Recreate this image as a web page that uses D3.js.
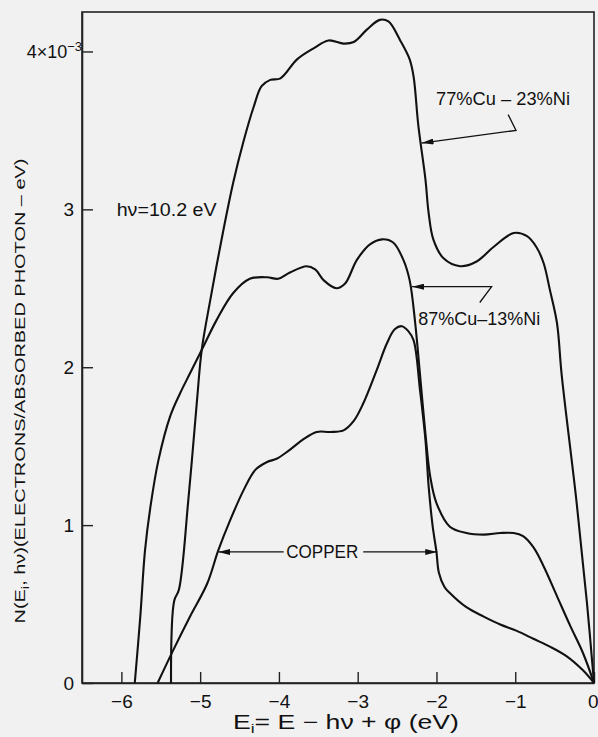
<!DOCTYPE html>
<html>
<head>
<meta charset="utf-8">
<script src="https://cdn.jsdelivr.net/npm/d3@7"></script>
<style>
  html, body { margin: 0; padding: 0; background: #f1f1f1; }
  svg { display: block; }
  text { font-family: "Liberation Sans", Arial, sans-serif; fill: #111; }
</style>
</head>
<body>
<div id="chart"></div>
<script>
// ---------------- data ----------------
const xTicks = [-6, -5, -4, -3, -2, -1, 0];
const xTickLabels = ["\u22126", "\u22125", "\u22124", "\u22123", "\u22122", "\u22121", "0"];
const yTicks = [0, 1, 2, 3, 4];
const yTickLabels = ["0", "1", "2", "3", "4\u00d710"];

// 77%Cu-23%Ni
const ni23E = [-5.37, -5.33, -5.27, -5.15, -5.04, -4.98, -4.87, -4.72, -4.58, -4.45, -4.32, -4.22, -4.11, -3.98, -3.77, -3.56, -3.37, -3.18, -3.05, -2.88, -2.72, -2.61, -2.46, -2.34, -2.29, -2.23, -2.14, -2.10, -2.04, -1.91, -1.70, -1.49, -1.28, -1.02, -0.85, -0.73, -0.64, -0.56, -0.47, -0.41, -0.22, -0.09, 0];
const ni23N = [0, 0.52, 0.59, 1.16, 1.79, 2.11, 2.43, 2.83, 3.17, 3.43, 3.65, 3.78, 3.82, 3.83, 3.95, 4.02, 4.07, 4.05, 4.06, 4.14, 4.20, 4.19, 4.07, 3.95, 3.84, 3.53, 3.19, 2.98, 2.81, 2.69, 2.64, 2.67, 2.76, 2.85, 2.83, 2.76, 2.66, 2.49, 2.28, 1.95, 1.14, 0.51, 0];

// 87%Cu-13%Ni
const ni13E = [-5.83, -5.76, -5.70, -5.63, -5.53, -5.38, -5.25, -5.13, -4.97, -4.79, -4.58, -4.37, -4.15, -4.01, -3.86, -3.65, -3.54, -3.43, -3.27, -3.16, -3.01, -2.84, -2.69, -2.55, -2.42, -2.34, -2.27, -2.21, -2.14, -2.08, -2.00, -1.83, -1.62, -1.40, -1.19, -1.02, -0.90, -0.77, -0.64, -0.47, -0.30, -0.14, 0];
const ni13N = [0, 0.42, 0.84, 1.12, 1.41, 1.69, 1.84, 1.96, 2.12, 2.30, 2.47, 2.56, 2.57, 2.56, 2.60, 2.64, 2.62, 2.55, 2.50, 2.53, 2.68, 2.78, 2.81, 2.79, 2.68, 2.55, 2.28, 1.96, 1.58, 1.31, 1.14, 0.99, 0.95, 0.94, 0.95, 0.95, 0.93, 0.86, 0.74, 0.55, 0.36, 0.19, 0];

// Copper
const cuE = [-5.54, -5.34, -5.13, -4.91, -4.77, -4.62, -4.45, -4.30, -4.15, -4.03, -3.88, -3.70, -3.52, -3.35, -3.18, -3.05, -2.93, -2.76, -2.63, -2.53, -2.44, -2.36, -2.29, -2.21, -2.14, -2.10, -2.05, -2.00, -1.97, -1.90, -1.83, -1.62, -1.40, -1.19, -0.98, -0.77, -0.56, -0.35, -0.14, 0];
const cuN = [0, 0.21, 0.42, 0.63, 0.84, 1.03, 1.22, 1.35, 1.40, 1.42, 1.47, 1.54, 1.59, 1.59, 1.60, 1.66, 1.77, 1.98, 2.15, 2.24, 2.26, 2.23, 2.17, 1.86, 1.54, 1.25, 1.00, 0.83, 0.70, 0.61, 0.57, 0.48, 0.42, 0.37, 0.33, 0.28, 0.23, 0.17, 0.08, 0];

const seriesNames = ["77%Cu\u201323%Ni", "87%Cu\u201313%Ni", "COPPER"];

// ---------------- layout ----------------
const W = 598, H = 737;
const margin = { left: 82, right: 4, top: 12, bottom: 54 };

const svg = d3.select("#chart").append("svg").attr("width", W).attr("height", H);
svg.append("rect").attr("width", W).attr("height", H).attr("fill", "#f1f1f1");

const x = d3.scaleLinear().domain([-6.5, 0]).range([margin.left, W - margin.right]);
const y = d3.scaleLinear().domain([0, 4.25]).range([H - margin.bottom, margin.top]);

// frame
svg.append("rect")
  .attr("x", x(-6.5)).attr("y", y(4.25))
  .attr("width", x(0) - x(-6.5)).attr("height", y(0) - y(4.25))
  .attr("fill", "none").attr("stroke", "#222").attr("stroke-width", 1.6);

// x axis
const xAxis = d3.axisBottom(x).tickValues(xTicks)
  .tickFormat((d, i) => xTickLabels[i]).tickSizeInner(-11).tickSizeOuter(0).tickPadding(8);
const gx = svg.append("g").attr("transform", `translate(0,${y(0)})`).call(xAxis);
gx.select(".domain").attr("stroke", "#222").attr("stroke-width", 1.6);
gx.selectAll(".tick line").attr("stroke", "#222").attr("stroke-width", 1.4);
gx.selectAll(".tick text").attr("font-size", 19).attr("dy", "0.9em").attr("fill", "#111")
  .attr("font-family", "Liberation Sans, Arial, sans-serif");
gx.selectAll(".tick text").filter(d => d === 0).attr("text-anchor", "end").attr("dx", 4);

// y axis
const yAxis = d3.axisLeft(y).tickValues(yTicks)
  .tickFormat((d, i) => yTickLabels[i]).tickSizeInner(-11).tickSizeOuter(0).tickPadding(8);
const gy = svg.append("g").attr("transform", `translate(${x(-6.5)},0)`).call(yAxis);
gy.select(".domain").attr("stroke", "#222").attr("stroke-width", 1.6);
gy.selectAll(".tick line").attr("stroke", "#222").attr("stroke-width", 1.4);
gy.selectAll(".tick text").attr("font-size", 19).attr("fill", "#111")
  .attr("font-family", "Liberation Sans, Arial, sans-serif");
// superscript for the top tick
const t4 = gy.selectAll(".tick text").filter(d => d === 4).attr("x", 0).attr("font-size", 18);
t4.append("tspan").attr("dy", "-0.55em").attr("font-size", 13).text("\u22123");

// curves
const line = d3.line().x(d => x(d[0])).y(d => y(d[1])).curve(d3.curveCatmullRom.alpha(0.5));
const series = [
  { name: seriesNames[0], pts: d3.zip(ni23E, ni23N) },
  { name: seriesNames[1], pts: d3.zip(ni13E, ni13N) },
  { name: seriesNames[2], pts: d3.zip(cuE, cuN) }
];
svg.selectAll("path.curve").data(series).enter().append("path")
  .attr("class", "curve")
  .attr("d", d => line(d.pts))
  .attr("fill", "none").attr("stroke", "#111").attr("stroke-width", 2.1)
  .attr("stroke-linejoin", "round");

// arrow marker
const defs = svg.append("defs");
defs.append("marker").attr("id", "arr").attr("viewBox", "0 0 12 6")
  .attr("refX", 12).attr("refY", 3).attr("markerWidth", 12).attr("markerHeight", 6)
  .attr("markerUnits", "userSpaceOnUse").attr("orient", "auto")
  .append("path").attr("d", "M0,0 L12,3 L0,6 Z").attr("fill", "#111");

const lead = (pts) => svg.append("polyline")
  .attr("points", pts.map(p => `${x(p[0])},${y(p[1])}`).join(" "))
  .attr("fill", "none").attr("stroke", "#111").attr("stroke-width", 1.3)
  .attr("marker-end", "url(#arr)");

// 77% label
svg.append("text").attr("x", x(-2.005)).attr("y", y(3.66))
  .attr("font-size", 19).attr("textLength", 134).attr("lengthAdjust", "spacingAndGlyphs")
  .text("77%Cu \u2013 23%Ni");
lead([[-1.09, 3.60], [-0.99, 3.50], [-2.19, 3.42]]);

// 87% label
svg.append("text").attr("x", x(-2.23)).attr("y", y(2.27))
  .attr("font-size", 19).attr("textLength", 122).attr("lengthAdjust", "spacingAndGlyphs")
  .text("87%Cu\u201313%Ni");
lead([[-1.45, 2.41], [-1.30, 2.51], [-2.31, 2.51]]);

// copper label
svg.append("text").attr("x", x(-3.45)).attr("y", y(0.83)).attr("dy", "0.36em")
  .attr("text-anchor", "middle").attr("font-size", 18)
  .attr("textLength", 72).attr("lengthAdjust", "spacingAndGlyphs")
  .text(seriesNames[2]);
lead([[-3.94, 0.83], [-4.77, 0.83]]);
lead([[-2.93, 0.83], [-1.99, 0.83]]);

// photon energy
svg.append("text").attr("x", x(-6.06)).attr("y", y(2.96)).attr("font-size", 19)
  .attr("textLength", 100).attr("lengthAdjust", "spacingAndGlyphs")
  .text("h\u03bd=10.2 eV");

// y title
svg.append("text")
  .attr("transform", `translate(25,${391}) rotate(-90)`)
  .attr("text-anchor", "middle").attr("font-size", 15)
  .attr("textLength", 465).attr("lengthAdjust", "spacingAndGlyphs")
  .html('N(E<tspan font-size="11" dy="4">i</tspan><tspan dy="-4">, h\u03bd)(ELECTRONS/ABSORBED  PHOTON \u2013 eV)</tspan>');

// x title
const xt = svg.append("text").attr("x", 346).attr("y", 729)
  .attr("text-anchor", "middle").attr("font-size", 20)
  .attr("textLength", 226).attr("lengthAdjust", "spacingAndGlyphs");
xt.append("tspan").text("E");
xt.append("tspan").attr("font-size", 13).attr("dy", 4).text("i");
xt.append("tspan").attr("dy", -4).text("= E \u2212 h\u03bd + \u03c6 (eV)");
</script>
</body>
</html>
